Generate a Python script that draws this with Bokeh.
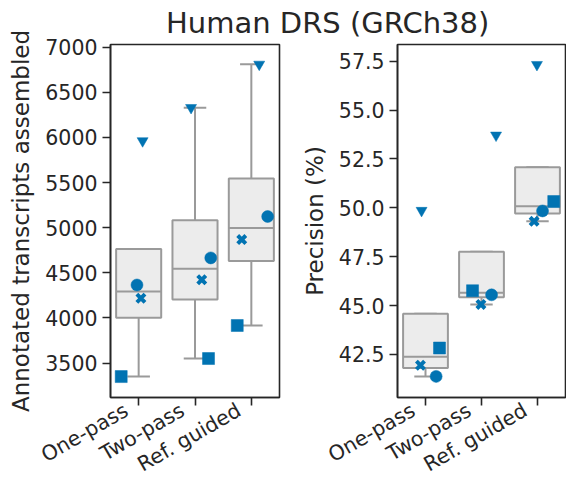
import math
import numpy as np
from bokeh.plotting import figure
from bokeh.models import (FixedTicker, Range1d, Div, PrintfTickFormatter,
                          LinearAxis)
from bokeh.layouts import column, row
from bokeh.embed import file_html
from bokeh.resources import INLINE

# ---------------- data ----------------
methods = ["One-pass", "Two-pass", "Ref. guided"]
# per method, sample order: square, x, circle, triangle
onepass_transcripts = [3350, 4218, 4365, 5962]
twopass_transcripts = [3550, 4423, 4665, 6330]
refguided_transcripts = [3916, 4868, 5124, 6810]

onepass_precision = [42.83, 41.95, 41.38, 49.86]
twopass_precision = [45.76, 45.06, 45.55, 53.71]
refguided_precision = [50.32, 49.31, 49.84, 57.32]

transcript_ticks = [3500, 4000, 4500, 5000, 5500, 6000, 6500, 7000]
precision_ticks = [42.5, 45.0, 47.5, 50.0, 52.5, 55.0, 57.5]

title_text = "Human DRS (GRCh38)"
left_label = "Annotated transcripts assembled"
right_label = "Precision (%)"

# ---------------- style / positions ----------------
markers = ["square", "x", "circle", "inverted_triangle"]
marker_sizes = [12, 11.5, 12, 11]
left_jitter = [[-0.31, 0.04, -0.03, 0.07],
               [0.24, 0.12, 0.28, -0.07],
               [-0.25, -0.17, 0.29, 0.14]]
right_jitter = [[0.25, -0.09, 0.19, -0.07],
                [-0.16, -0.01, 0.18, 0.26],
                [0.29, -0.06, 0.09, -0.01]]

BLUE = "#0173b2"
DARK = "#262626"
BOXLINE = "#9a9a9a"
BOXFILL = "#ececec"
FONT = "DejaVu Sans"
TOP_H = 26
FIG_H = 489 - TOP_H
LABEL_SHIFT = 0.22   # horizontal shift of rotated tick labels (category units)


def box_stats(vals):
    v = np.sort(np.asarray(vals, dtype=float))
    q1, med, q3 = np.percentile(v, [25, 50, 75])
    iqr = q3 - q1
    lo_lim, hi_lim = q1 - 1.5 * iqr, q3 + 1.5 * iqr
    lo = v[v >= lo_lim].min()
    hi = v[v <= hi_lim].max()
    lo = min(lo, q1)
    hi = max(hi, q3)
    return q1, med, q3, lo, hi


def make_panel(series, jitter, y0, y1, ylabel, yticks, width, bl, br, fmt=None):
    p = figure(width=width, height=FIG_H, x_range=Range1d(-0.5, 2.5),
               y_range=Range1d(y0, y1), output_backend="svg",
               toolbar_location=None, min_border_left=bl, min_border_right=br,
               min_border_top=44 - TOP_H, min_border_bottom=90)
    p.grid.visible = False
    p.outline_line_color = DARK
    p.outline_line_width = 1.6
    p.background_fill_color = "white"
    p.border_fill_color = None

    xs = list(range(len(methods)))
    stats = [box_stats(s) for s in series]
    q1 = [s[0] for s in stats]
    med = [s[1] for s in stats]
    q3 = [s[2] for s in stats]
    lo = [s[3] for s in stats]
    hi = [s[4] for s in stats]

    # whiskers
    p.segment(x0=xs, x1=xs, y0=q1, y1=lo, line_color=BOXLINE, line_width=2)
    p.segment(x0=xs, x1=xs, y0=q3, y1=hi, line_color=BOXLINE, line_width=2)
    p.segment(x0=[x - 0.2 for x in xs], x1=[x + 0.2 for x in xs], y0=lo, y1=lo,
              line_color=BOXLINE, line_width=2)
    p.segment(x0=[x - 0.2 for x in xs], x1=[x + 0.2 for x in xs], y0=hi, y1=hi,
              line_color=BOXLINE, line_width=2)
    # boxes
    p.vbar(x=xs, width=0.8, bottom=q1, top=q3, fill_color=BOXFILL,
           line_color=BOXLINE, line_width=2)
    p.segment(x0=[x - 0.4 for x in xs], x1=[x + 0.4 for x in xs], y0=med, y1=med,
              line_color=BOXLINE, line_width=2)

    # points
    for i, mk in enumerate(markers):
        px = [m + jitter[m][i] for m in xs]
        py = [series[m][i] for m in xs]
        if mk == "x":
            p.scatter(px, py, marker="x", size=marker_sizes[i], line_color=BLUE,
                      line_width=4)
        else:
            p.scatter(px, py, marker=mk, size=marker_sizes[i], fill_color=BLUE,
                      line_color=BLUE, line_width=0.5)

    # axes
    for ax in (p.xaxis[0], p.yaxis[0]):
        ax.major_label_text_font = FONT
        ax.major_label_text_font_size = "20.5px"
        ax.major_label_text_color = DARK
        ax.axis_line_color = DARK
        ax.axis_line_width = 1.6
        ax.major_tick_line_color = DARK
        ax.major_tick_line_width = 1.6
        ax.major_tick_out = 8
        ax.major_tick_in = 0
        ax.minor_tick_out = 0
        ax.minor_tick_in = 0
        ax.major_label_standoff = 5

    # primary x axis: ticks only
    p.xaxis.ticker = FixedTicker(ticks=xs)
    p.xaxis.major_label_overrides = {i: "" for i in xs}
    p.xaxis.major_label_text_font_size = "1px"
    p.xaxis.major_label_standoff = 0

    # secondary x axis: rotated category labels, slightly shifted left
    p.extra_x_ranges = {"lab": Range1d(-0.5 + LABEL_SHIFT, 2.5 + LABEL_SHIFT)}
    lab_ax = LinearAxis(x_range_name="lab", ticker=FixedTicker(ticks=xs),
                        major_label_overrides={i: m for i, m in enumerate(methods)},
                        major_label_orientation=math.pi / 6,
                        major_tick_out=0, major_tick_in=0,
                        minor_tick_out=0, minor_tick_in=0,
                        axis_line_color=None, major_label_standoff=3,
                        major_label_text_font=FONT,
                        major_label_text_font_size="20.5px",
                        major_label_text_color=DARK)
    p.add_layout(lab_ax, "below")

    p.yaxis.ticker = FixedTicker(ticks=yticks)
    if fmt:
        p.yaxis.formatter = PrintfTickFormatter(format=fmt)
    p.yaxis.axis_label = ylabel
    p.yaxis.axis_label_text_font = FONT
    p.yaxis.axis_label_text_font_size = "23px"
    p.yaxis.axis_label_text_font_style = "normal"
    p.yaxis.axis_label_text_color = DARK
    p.yaxis.axis_label_standoff = 8
    return p


p1 = make_panel([onepass_transcripts, twopass_transcripts, refguided_transcripts],
                left_jitter, 3118, 7030, left_label, transcript_ticks,
                width=290, bl=110, br=11)
p2 = make_panel([onepass_precision, twopass_precision, refguided_precision],
                right_jitter, 40.30, 58.35, right_label, precision_ticks,
                width=276, bl=107, br=1, fmt="%.1f")

title = Div(text=('<div style="margin-left:166px; padding-top:7px; white-space:nowrap; '
                  'font-family:\'DejaVu Sans\'; font-size:29px; line-height:1.164; '
                  'color:#262626;">' + title_text + '</div>'),
            width=566, height=TOP_H, margin=(0, 0, 0, 0),
            styles={"overflow": "visible", "position": "relative", "z-index": "10"})

layout = column(title, row(p1, p2, spacing=0), spacing=0)

open("out.html", "w").write(file_html(layout, INLINE))
